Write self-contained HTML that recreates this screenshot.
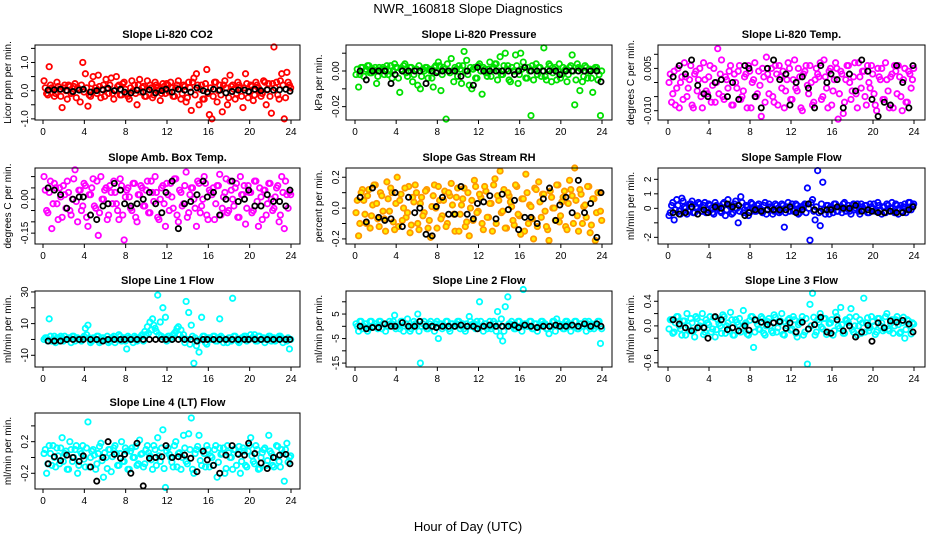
<!DOCTYPE html>
<html><head><meta charset="utf-8"><style>
html,body{margin:0;padding:0;background:#fff;}
svg{display:block;font-family:"Liberation Sans",Arial,sans-serif;}
</style></head><body>
<svg id="chart" width="936" height="540" viewBox="0 0 936 540">
<text x="468" y="13" text-anchor="middle" font-size="13">NWR_160818  Slope Diagnostics</text>
<text x="468" y="531" text-anchor="middle" font-size="13">Hour of Day (UTC)</text>
</svg>
<script>
const xTicks = [0,4,8,12,16,20,24];
const hoursDense = [0.1,0.35,0.6,0.85,1.1,1.35,1.6,1.85,2.1,2.35,2.6,2.85,3.1,3.35,3.6,3.85,4.1,4.35,4.6,4.85,5.1,5.35,5.6,5.85,6.1,6.35,6.6,6.85,7.1,7.35,7.6,7.85,8.1,8.35,8.6,8.85,9.1,9.35,9.6,9.85,10.1,10.35,10.6,10.85,11.1,11.35,11.6,11.85,12.1,12.35,12.6,12.85,13.1,13.35,13.6,13.85,14.1,14.35,14.6,14.85,15.1,15.35,15.6,15.85,16.1,16.35,16.6,16.85,17.1,17.35,17.6,17.85,18.1,18.35,18.6,18.85,19.1,19.35,19.6,19.85,20.1,20.35,20.6,20.85,21.1,21.35,21.6,21.85,22.1,22.35,22.6,22.85,23.1,23.35,23.6,23.85];
const hoursDense2 = [0.22,0.47,0.72,0.97,1.22,1.47,1.72,1.97,2.22,2.47,2.72,2.97,3.22,3.47,3.72,3.97,4.22,4.47,4.72,4.97,5.22,5.47,5.72,5.97,6.22,6.47,6.72,6.97,7.22,7.47,7.72,7.97,8.22,8.47,8.72,8.97,9.22,9.47,9.72,9.97,10.22,10.47,10.72,10.97,11.22,11.47,11.72,11.97,12.22,12.47,12.72,12.97,13.22,13.47,13.72,13.97,14.22,14.47,14.72,14.97,15.22,15.47,15.72,15.97,16.22,16.47,16.72,16.97,17.22,17.47,17.72,17.97,18.22,18.47,18.72,18.97,19.22,19.47,19.72,19.97,20.22,20.47,20.72,20.97,21.22,21.47,21.72,21.97,22.22,22.47,22.72,22.97,23.22,23.47,23.72,23.97];
const hoursSparse = [0.5,1.1,1.7,2.3,2.9,3.5,3.9,4.6,5.2,5.8,6.3,6.9,7.5,7.9,8.5,9.1,9.7,10.3,10.9,11.5,11.9,12.5,13.1,13.7,14.3,14.9,15.5,15.9,16.5,17.1,17.7,18.3,18.9,19.5,19.9,20.5,21.1,21.7,22.3,22.9,23.5,23.9];

const co2C = [0.35,-0.1,0.85,0.1,-0.2,0.3,0.05,-0.6,0.2,-0.3,0.15,-0.05,0.25,0.1,-0.4,1.0,0.6,-0.55,-0.2,0.5,0.1,0.55,-0.25,0.2,0.4,-0.1,0.45,-0.3,0.5,0.2,-0.15,0.3,-0.1,-0.3,0.35,0.2,-0.5,0.4,0.1,-0.2,0.35,0.2,-0.25,0.3,0.1,-0.35,0.25,-0.1,0.2,0.3,-0.2,0.1,0.35,-0.3,0.2,-0.4,0.3,-0.7,0.45,0.6,-0.5,0.2,-0.3,0.75,-0.85,-1.0,0.3,-0.4,0.2,-0.75,0.35,-0.5,0.55,0.2,-0.3,0.3,0.1,-0.6,0.6,-0.25,0.2,-0.35,0.3,0.1,-0.2,0.35,-0.5,0.25,-0.8,1.55,0.3,-0.3,0.6,-1.0,0.65,0.2];
const co2C2 = [0.1,-0.15,0.2,0.05,-0.1,0.15,-0.2,0.1,0.0,0.2,-0.1,0.15,-0.25,0.05,0.2,-0.05,0.1,-0.15,0.25,0.0,-0.1,0.15,0.05,-0.2,0.1,0.2,-0.1,0.0,0.15,-0.15,0.25,0.05,-0.2,0.1,0.0,-0.1,0.2,-0.05,0.15,-0.2,0.05,0.1,-0.15,0.2,0.0,-0.1,0.15,0.25,-0.05,0.1,-0.2,0.2,0.05,-0.1,0.15,-0.25,0.1,0.3,-0.15,0.2,0.05,-0.3,0.25,-0.1,0.1,-0.2,0.3,0.0,-0.15,0.2,0.1,-0.25,0.15,0.05,-0.1,0.2,-0.2,0.1,0.25,-0.05,0.15,-0.15,0.2,0.0,-0.1,0.3,0.05,-0.2,0.25,0.1,-0.15,0.35,0.2,-0.25,0.3,0.1];
const co2B = [0.02,0.03,0.05,0.01,-0.03,0.02,0.05,-0.05,0.0,0.03,0.08,0.0,0.05,-0.05,-0.08,0.02,-0.05,0.03,-0.08,0.0,0.05,-0.05,0.05,0.02,-0.05,0.1,0.0,-0.05,0.05,0.02,-0.08,-0.03,0.02,0.02,-0.03,0.05,0.0,0.03,0.02,0.03,0.05,-0.02];
const prC = [-0.002,-0.009,0.002,-0.003,0.001,0.003,-0.001,0.0,-0.007,0.002,0.001,-0.002,0.003,0.0,-0.004,0.004,0.002,-0.012,0.0,0.004,-0.003,0.002,-0.006,0.001,-0.008,-0.01,0.001,0.002,-0.004,0.0,-0.009,0.003,0.005,-0.011,0.002,-0.027,0.0,0.007,-0.006,0.001,0.003,-0.007,0.011,0.006,-0.008,-0.01,0.002,-0.004,0.004,-0.013,0.001,-0.003,0.005,0.001,0.004,-0.005,0.008,-0.002,0.01,0.003,-0.006,0.0,0.009,-0.007,0.01,0.005,-0.004,0.002,-0.025,-0.005,0.004,0.002,-0.003,0.013,-0.005,0.004,-0.006,0.001,-0.005,0.004,-0.002,0.0,-0.006,0.002,0.009,-0.019,0.004,-0.011,-0.006,0.003,-0.004,0.001,-0.012,0.002,-0.005,-0.025];
const prC2 = [0.001,-0.002,0.002,0.0,0.003,-0.001,0.001,0.002,-0.003,0.0,0.002,0.001,-0.002,0.003,0.0,0.002,-0.004,0.001,0.003,-0.001,0.0,0.002,-0.002,0.001,0.003,-0.003,0.0,0.002,0.001,-0.004,0.002,0.0,0.003,-0.002,0.001,0.004,-0.001,0.0,0.002,-0.003,0.001,0.003,0.0,-0.002,0.002,0.001,-0.004,0.003,0.0,0.002,-0.001,0.001,-0.003,0.002,0.004,0.0,-0.002,0.003,0.001,-0.005,0.002,0.0,0.003,-0.002,0.001,0.002,-0.004,0.0,0.003,0.001,-0.002,0.002,0.0,-0.003,0.001,0.003,-0.001,0.002,0.0,-0.004,0.002,0.001,-0.002,0.003,0.0,-0.005,0.002,0.001,-0.003,0.002,0.0,-0.004,0.001,0.002,-0.002,0.0];
const prB = [0.0,-0.005,0.0,0.0,0.0,-0.007,-0.002,0.0,0.0,0.0,0.0,-0.007,0.0,-0.001,0.0,0.0,0.0,-0.003,0.0,-0.008,0.002,0.0,0.0,0.0,0.0,0.0,-0.002,0.0,0.002,0.0,0.0,0.0,0.0,0.0,-0.002,0.0,0.0,0.0,0.0,0.0,0.0,-0.006];
const tC = [0.0,-0.007,0.004,-0.002,-0.009,0.002,0.007,-0.005,0.001,-0.008,0.003,-0.003,0.005,-0.009,0.001,-0.004,0.006,-0.001,-0.007,0.012,0.003,-0.005,0.002,-0.002,0.006,-0.008,0.0,0.004,-0.006,-0.003,0.003,0.006,-0.009,0.001,-0.005,0.004,-0.012,0.002,0.009,-0.004,0.005,-0.007,0.003,0.006,-0.002,-0.009,0.001,0.005,-0.006,0.008,-0.003,0.002,-0.01,0.004,-0.001,0.006,-0.008,0.001,0.003,0.007,-0.005,0.002,-0.009,0.005,-0.003,0.007,-0.013,0.004,-0.011,0.001,0.006,-0.006,0.002,-0.004,0.007,-0.002,0.004,-0.008,0.0,0.006,-0.004,-0.01,0.002,0.005,-0.006,0.001,-0.009,0.003,0.006,-0.004,0.002,-0.01,0.005,-0.007,0.003,0.001];
const tC2 = [0.003,-0.004,-0.008,0.005,0.0,-0.006,0.002,-0.002,0.006,-0.009,0.004,0.001,-0.005,0.007,-0.003,0.002,-0.007,0.005,0.0,-0.004,0.008,-0.006,0.001,0.004,-0.008,0.003,-0.002,0.006,-0.005,0.002,-0.009,0.004,0.0,0.007,-0.004,-0.001,0.005,-0.007,0.003,0.001,-0.005,0.006,-0.008,0.002,0.004,-0.003,0.007,-0.006,0.001,-0.002,0.005,-0.009,0.003,0.006,-0.004,0.0,-0.007,0.005,0.002,-0.006,0.008,-0.002,0.004,-0.008,0.001,0.005,-0.004,0.003,-0.007,0.006,0.0,-0.003,0.007,-0.009,0.002,0.004,-0.005,0.006,-0.002,0.003,-0.008,0.005,0.001,-0.006,0.007,-0.003,0.002,-0.009,0.004,0.006,-0.005,0.001,-0.007,0.004,-0.002,0.005];
const tB = [0.002,0.006,0.003,0.008,-0.001,-0.004,-0.005,0.0,0.001,-0.005,0.0,-0.006,0.006,0.005,-0.005,-0.009,0.005,0.008,0.001,0.003,-0.008,0.0,0.002,-0.002,-0.009,0.006,0.0,0.003,0.001,-0.009,0.003,-0.003,0.008,0.004,-0.006,-0.012,-0.007,-0.008,0.006,0.0,-0.009,0.006];
const aC = [0.1,-0.05,0.03,-0.13,0.07,-0.02,0.05,-0.08,0.02,0.08,-0.05,0.0,0.13,-0.1,0.04,-0.03,0.06,-0.12,0.02,0.09,-0.04,-0.16,0.1,0.0,0.05,-0.07,0.03,0.08,-0.02,-0.09,0.06,-0.18,0.04,0.01,-0.05,0.07,-0.1,0.02,0.05,-0.03,0.08,-0.06,0.03,0.1,-0.08,0.0,0.06,-0.12,0.02,0.07,-0.04,0.09,-0.1,0.03,-0.02,0.12,-0.06,0.05,0.0,-0.12,0.07,-0.03,0.1,-0.07,0.04,0.02,-0.09,0.06,0.11,-0.04,0.03,-0.06,0.08,0.0,0.05,-0.08,0.1,0.02,-0.11,0.06,0.03,-0.05,0.08,-0.12,0.01,0.04,-0.07,0.07,0.0,-0.04,0.05,-0.1,0.1,-0.13,0.02,0.03];
const aC2 = [0.04,-0.06,0.08,-0.02,0.05,-0.09,0.01,0.06,-0.04,0.03,-0.07,0.09,-0.01,0.04,-0.05,0.07,-0.08,0.02,0.05,-0.03,0.08,-0.06,0.0,0.04,-0.09,0.06,-0.02,0.03,-0.05,0.09,-0.07,0.01,0.05,-0.04,0.07,-0.08,0.02,0.06,-0.03,0.04,-0.06,0.08,-0.01,0.03,-0.09,0.05,-0.02,0.07,-0.05,0.01,0.09,-0.07,0.04,-0.03,0.06,-0.08,0.02,0.05,-0.04,0.08,-0.06,0.0,0.07,-0.09,0.03,0.05,-0.02,0.06,-0.07,0.01,0.09,-0.05,0.04,-0.03,0.07,-0.08,0.02,0.06,-0.04,0.03,-0.06,0.08,-0.01,0.05,-0.09,0.04,-0.02,0.07,-0.05,0.01,0.06,-0.07,0.03,0.08,-0.04,0.02];
const aB = [0.05,0.04,0.02,-0.04,0.0,0.01,0.01,-0.07,-0.09,-0.03,-0.02,0.07,0.04,-0.02,-0.03,-0.02,0.0,0.03,-0.02,-0.06,0.03,0.08,-0.13,-0.02,-0.01,0.02,0.08,0.01,0.03,-0.07,0.0,0.08,-0.01,0.0,0.04,-0.03,-0.03,0.02,-0.01,-0.01,-0.03,0.04];
const rC = [-0.03,-0.18,0.1,0.05,-0.1,0.12,-0.05,0.15,0.03,-0.12,0.08,-0.07,0.17,-0.02,0.1,-0.14,0.2,0.05,-0.08,0.13,-0.03,-0.16,0.07,0.15,-0.1,0.03,-0.05,0.11,-0.13,-0.19,0.08,0.0,0.14,-0.07,0.05,-0.12,0.1,0.16,-0.04,0.07,-0.15,0.02,0.13,-0.09,-0.18,0.05,0.18,-0.03,0.09,-0.1,0.14,-0.06,0.03,-0.15,0.19,0.08,0.24,-0.02,-0.13,0.1,0.04,-0.08,0.15,-0.04,-0.17,0.06,0.22,-0.1,0.01,-0.2,0.12,0.17,-0.06,0.09,-0.12,-0.21,0.07,0.0,0.15,-0.09,0.04,0.11,-0.14,0.18,0.08,0.26,-0.05,0.12,-0.1,0.02,0.14,-0.16,0.06,-0.21,0.1,-0.02];
const rC2 = [0.05,-0.1,0.12,-0.04,0.08,-0.13,0.02,0.15,-0.07,0.1,-0.02,-0.15,0.06,0.13,-0.09,0.03,-0.12,0.09,0.0,-0.06,0.14,-0.11,0.04,0.1,-0.14,0.07,-0.03,0.12,-0.08,0.01,0.15,-0.13,0.05,-0.05,0.11,-0.1,0.08,0.02,-0.15,0.13,-0.04,0.06,-0.12,0.1,0.0,-0.08,0.14,-0.02,0.07,-0.14,0.11,-0.06,0.03,0.15,-0.1,0.05,-0.03,0.12,-0.13,0.08,0.01,-0.11,0.14,-0.05,0.06,-0.15,0.1,0.02,-0.07,0.13,-0.12,0.04,0.09,-0.02,-0.14,0.11,0.0,-0.08,0.15,-0.05,0.07,-0.12,0.03,0.12,-0.1,0.05,-0.15,0.09,0.01,-0.06,0.14,-0.11,0.06,-0.03,0.1,-0.08];
const rB = [0.07,-0.09,0.13,-0.06,-0.08,-0.07,0.1,-0.12,0.07,-0.03,0.0,-0.17,-0.18,0.01,0.07,-0.04,-0.04,0.14,-0.04,-0.07,0.03,0.04,0.08,-0.07,0.09,-0.01,0.05,-0.14,-0.06,-0.06,-0.1,0.06,0.13,-0.08,0.02,0.07,-0.03,0.18,-0.03,0.03,-0.19,0.1];
const sC = [-0.5,0.2,-0.8,0.6,-0.2,0.7,0.1,-0.4,0.3,0.5,-0.3,0.0,0.3,-0.2,0.4,-0.1,0.2,-0.3,0.4,0.0,-0.2,0.3,-0.5,0.6,0.1,-0.3,0.5,-1.0,0.8,-0.3,0.2,-0.5,0.4,0.0,-0.2,0.3,-0.1,0.2,-0.4,0.3,0.0,-0.2,0.2,-0.3,0.3,-1.3,0.1,-0.2,0.3,-0.1,0.2,-0.3,0.1,0.3,1.4,-2.2,0.6,-0.8,2.6,-1.2,1.8,-0.4,0.2,0.1,-0.3,0.3,-0.2,0.1,0.3,-0.2,0.2,-0.4,0.3,0.0,-0.2,0.3,-0.1,0.2,-0.3,0.1,0.3,-0.2,0.2,-0.4,0.1,0.3,-0.2,0.4,-0.3,0.2,0.0,-0.2,0.3,-0.1,0.4,0.2];
const sC2 = [-0.3,0.4,-0.1,0.2,-0.4,0.5,0.0,-0.2,0.3,-0.3,0.1,0.4,-0.2,0.2,-0.3,0.3,0.0,-0.4,0.2,0.1,-0.3,0.4,-0.1,0.2,-0.4,0.3,0.0,-0.2,0.4,-0.1,0.1,-0.3,0.3,-0.2,0.2,0.0,-0.3,0.4,-0.1,0.1,-0.4,0.3,0.0,-0.2,0.2,-0.3,0.4,0.1,-0.2,0.3,-0.4,0.1,0.2,-0.3,0.0,0.4,-0.2,0.1,-0.3,0.3,-0.1,0.2,-0.4,0.0,0.3,-0.2,0.1,-0.3,0.4,0.0,-0.2,0.2,-0.1,0.3,-0.4,0.1,0.2,-0.3,0.3,0.0,-0.2,0.4,-0.1,0.1,-0.3,0.2,0.0,-0.2,0.3,-0.4,0.2,0.1,-0.3,0.4,-0.1,0.3];
const sB = [-0.3,-0.4,-0.3,0.1,-0.4,-0.1,-0.3,0.1,0.0,0.3,0.1,0.2,-0.5,-0.3,-0.1,-0.2,-0.1,-0.1,-0.1,-0.1,0.1,-0.3,-0.1,0.3,-0.1,-0.2,-0.1,-0.1,0.1,0.0,0.0,0.2,-0.2,-0.1,-0.2,-0.3,-0.3,-0.2,-0.3,-0.3,-0.1,0.1];
const l1C = [0,1,13,-1,2,1,-1,1,2,0,1,2,-1,1,0,1,7,9,-2,1,0,2,-1,1,0,-2,1,2,0,3,-1,1,-6,1,0,2,-1,1,3,5,8,11,13,7,28,11,20,14,2,1,3,5,8,6,3,24,17,9,-15,-4,-8,14,2,-3,1,0,2,-1,13,1,0,-2,1,26,2,-1,0,1,2,0,3,1,-1,2,0,1,0,2,-1,1,0,2,1,0,-1,-6];
const l1C2 = [1,-1,2,0,-2,1,2,-1,0,1,-2,2,1,0,-1,2,3,1,-1,0,2,-2,1,0,2,-1,1,-2,0,2,1,-1,2,0,-2,1,0,2,-1,3,4,6,9,5,3,2,1,-1,2,0,4,7,3,1,-2,0,-3,2,1,-1,0,2,-2,1,0,2,-1,1,2,-2,0,1,-1,2,0,-2,1,2,-1,0,1,3,-1,2,0,-2,1,2,0,-1,1,2,-2,0,1,0];
const l1B = [-1,-1,-1,0,0,0,0,0,0,-1,0,0,0,0,0,0,0,0,0,0,0,0,0,0,0,-1,0,0,0,0,0,0,0,0,0,0,0,0,0,0,0,0];
const l2C = [1,-2,2,0,1,-1,2,0,1,2,-1,1,0,2,1,4.5,0,-1,2,1,3,-2,0,1,5,-15,1,0,-1,2,0,1,-5,1,0,2,-1,1,0,1,2,0,-1,1,4,0,1,2,10,0,1,-1,2,0,1,6,-4,-6,8,12,1,0,-1,2,0,15,1,0,2,-1,1,0,2,1,-1,-3,0,2,3,1,0,-1,2,1,0,2,-1,1,0,2,1,-1,0,1,2,-7];
const l2C2 = [0,2,-1,1,-2,2,0,1,-1,2,1,-2,0,1,2,-1,0,2,-2,1,0,-1,2,1,-2,0,2,-1,1,0,-2,2,1,-1,0,2,-2,1,0,2,-1,1,-2,0,2,1,-1,0,2,-2,1,0,-1,2,-2,1,3,-2,0,1,2,-1,0,2,-2,1,0,2,-1,1,-2,0,2,1,-1,0,2,-2,1,0,-1,2,1,-2,0,2,-1,1,0,-2,2,1,-1,0,2,-1];
const l2B = [0,-1,-0.5,-0.5,1,0,0,1.5,0,0,2,0,0,-0.5,0,0,0,0.5,0,0,-1,0,0.5,0,0,0,0.5,-0.5,0.5,0,-0.5,0,0,0.5,0,0,0.5,0,1,0,1,0];
const l3C = [-0.05,0.1,-0.1,0.15,0.0,-0.15,0.08,0.2,-0.08,0.05,-0.18,0.12,0.0,0.2,-0.1,0.05,0.15,-0.05,-0.18,0.1,0.0,0.18,-0.12,0.05,0.22,-0.15,0.1,0.02,-0.1,0.25,0.05,-0.15,0.15,-0.35,0.08,-0.05,0.15,-0.12,0.0,0.12,-0.08,0.18,-0.1,0.05,0.2,-0.15,0.0,0.12,-0.05,0.1,-0.18,0.05,0.15,-0.1,-0.62,0.35,0.53,-0.15,0.1,0.2,-0.05,0.12,-0.1,0.05,-0.15,0.22,0.0,0.3,-0.12,0.1,0.05,0.28,-0.1,0.15,0.0,-0.12,0.45,0.05,-0.08,0.15,0.0,-0.1,0.12,0.05,-0.05,0.2,-0.08,0.1,0.0,0.15,-0.12,0.05,-0.2,0.1,0.0,0.05];
const l3C2 = [0.1,-0.12,0.05,0.15,-0.05,0.08,-0.15,0.0,0.12,-0.08,0.15,-0.02,0.06,-0.14,0.1,0.02,-0.1,0.14,-0.06,0.04,-0.12,0.15,0.0,-0.08,0.1,-0.15,0.06,0.12,-0.04,0.02,-0.13,0.09,0.15,-0.1,0.03,-0.06,0.12,-0.15,0.07,0.0,-0.11,0.14,-0.03,0.08,-0.14,0.05,0.1,-0.07,0.15,-0.12,0.02,0.08,-0.15,0.12,-0.05,0.0,0.14,-0.1,0.06,-0.02,0.12,-0.14,0.04,0.1,-0.08,0.15,-0.04,0.02,-0.12,0.09,0.14,-0.06,0.0,-0.15,0.1,0.05,-0.1,0.13,-0.03,0.07,-0.14,0.12,0.0,-0.08,0.15,-0.05,0.04,-0.12,0.1,0.02,-0.1,0.14,-0.06,0.08,-0.13,0.03];
const l3B = [0.1,0.03,-0.03,-0.08,-0.03,-0.03,-0.2,0.15,0.1,-0.06,-0.03,-0.08,0.0,-0.07,0.1,0.06,0.02,0.05,0.07,-0.04,0.05,-0.1,0.06,-0.05,0.02,0.14,-0.1,-0.12,0.1,-0.08,0.0,-0.18,-0.1,0.01,-0.25,0.05,-0.03,0.08,0.06,0.09,0.03,-0.1];
const l4C = [0.05,-0.2,0.15,-0.1,0.0,0.12,-0.08,0.25,0.05,-0.15,0.2,-0.05,0.1,-0.2,0.08,0.15,-0.12,0.45,0.0,0.1,-0.15,0.05,0.18,-0.25,0.0,0.1,-0.18,0.12,0.05,-0.1,0.2,-0.05,0.08,-0.15,0.12,0.0,-0.1,0.22,0.05,-0.08,0.15,0.02,-0.15,0.1,0.25,-0.05,0.35,-0.38,0.12,0.0,-0.12,0.2,0.05,-0.15,0.28,-0.05,0.3,0.5,-0.2,0.1,0.28,-0.1,0.05,0.15,-0.12,0.0,0.1,-0.25,0.12,0.05,-0.2,0.15,0.0,-0.15,0.1,0.05,-0.2,0.12,-0.1,0.08,0.25,-0.05,0.15,-0.15,0.0,0.1,-0.1,0.28,0.05,-0.12,0.15,-0.05,0.1,-0.3,0.18,0.0];
const l4C2 = [0.1,-0.08,0.05,0.15,-0.12,0.02,0.12,-0.05,0.08,-0.15,0.1,0.0,0.15,-0.1,0.05,-0.02,0.12,-0.12,0.08,0.03,-0.08,0.14,-0.04,0.06,-0.14,0.1,0.01,0.15,-0.1,0.05,-0.05,0.12,-0.15,0.08,0.0,0.14,-0.08,0.04,-0.12,0.1,0.06,-0.03,0.15,-0.1,0.02,0.12,-0.14,0.08,0.04,-0.06,0.15,-0.12,0.06,0.0,0.12,-0.08,0.1,-0.15,0.05,0.14,-0.04,0.08,-0.12,0.1,0.02,-0.1,0.15,-0.06,0.04,0.12,-0.14,0.06,0.0,0.1,-0.1,0.14,-0.05,0.08,-0.12,0.15,0.02,-0.08,0.1,-0.14,0.06,0.12,-0.04,0.08,-0.1,0.0,0.14,-0.12,0.05,0.1,-0.06,0.02];
const l4B = [-0.08,0.01,-0.04,0.03,0.0,-0.05,0.02,-0.12,-0.3,0.0,0.2,0.04,-0.01,0.04,-0.2,0.18,-0.36,-0.01,0.0,0.01,0.15,0.0,0.01,0.03,-0.01,-0.18,0.08,-0.03,-0.1,-0.2,0.03,0.15,0.04,0.03,0.18,0.05,-0.07,-0.14,0.0,0.03,0.04,-0.08];

const colBox = [[35,300,43,291],[346,612,355,602],[658,925,668,914]];
const rowBox = [[45,120],[168,244],[291,367],[413,489]];
const panels = [
 {name:'co2',title:'Slope Li-820 CO2',ylab:'Licor ppm per min.',r:0,c:0,ymin:-1.04,ymax:1.62,ticks:[-1,-0.5,0,0.5,1,1.5],labels:{'-1':'-1.0','0':'0.0','1':'1.0'},color:'#ff0000',cv:co2C,cv2:co2C2,bv:co2B},
 {name:'pressure',title:'Slope Li-820 Pressure',ylab:'kPa per min.',r:0,c:1,ymin:-0.0275,ymax:0.0146,ticks:[-0.02,-0.01,0,0.01],labels:{'-0.02':'-0.02','0':'0.00'},color:'#00e000',cv:prC,cv2:prC2,bv:prB},
 {name:'li820-temp',title:'Slope Li-820 Temp.',ylab:'degrees C per min.',r:0,c:2,ymin:-0.0133,ymax:0.0133,ticks:[-0.01,-0.005,0,0.005,0.01],labels:{'-0.01':'-0.010','0.005':'0.005'},color:'#ff00ff',cv:tC,cv2:tC2,bv:tB},
 {name:'amb-box-temp',title:'Slope Amb. Box Temp.',ylab:'degrees C per min.',r:1,c:0,ymin:-0.198,ymax:0.138,ticks:[-0.15,-0.1,-0.05,0,0.05,0.1],labels:{'-0.15':'-0.15','0':'0.00'},color:'#ff00ff',cv:aC,cv2:aC2,bv:aB},
 {name:'gas-stream-rh',title:'Slope Gas Stream RH',ylab:'percent per min.',r:1,c:1,ymin:-0.233,ymax:0.26,ticks:[-0.2,-0.1,0,0.1,0.2],labels:{'-0.2':'-0.2','0':'0.0','0.2':'0.2'},color:'#ff9900',cv:rC,cv2:rC2,bv:rB},
 {name:'sample-flow',title:'Slope Sample Flow',ylab:'ml/min per min.',r:1,c:2,ymin:-2.46,ymax:2.78,ticks:[-2,-1,0,1,2],labels:{'-2':'-2','0':'0','1':'1','2':'2'},color:'#0000ff',cv:sC,cv2:sC2,bv:sB},
 {name:'line1-flow',title:'Slope Line 1 Flow',ylab:'ml/min per min.',r:2,c:0,ymin:-17.4,ymax:30.6,ticks:[-10,0,10,20,30],labels:{'-10':'-10','10':'10','30':'30'},color:'#00ffff',cv:l1C,cv2:l1C2,bv:l1B},
 {name:'line2-flow',title:'Slope Line 2 Flow',ylab:'ml/min per min.',r:2,c:1,ymin:-16.6,ymax:14.4,ticks:[-15,-10,-5,0,5,10],labels:{'-15':'-15','-5':'-5','5':'5'},color:'#00ffff',cv:l2C,cv2:l2C2,bv:l2B},
 {name:'line3-flow',title:'Slope Line 3 Flow',ylab:'ml/min per min.',r:2,c:2,ymin:-0.668,ymax:0.567,ticks:[-0.6,-0.4,-0.2,0,0.2,0.4],labels:{'-0.6':'-0.6','0':'0.0','0.4':'0.4'},color:'#00ffff',cv:l3C,cv2:l3C2,bv:l3B},
 {name:'line4-flow',title:'Slope Line 4 (LT) Flow',ylab:'ml/min per min.',r:3,c:0,ymin:-0.399,ymax:0.563,ticks:[-0.2,0,0.2,0.4],labels:{'-0.2':'-0.2','0.2':'0.2'},color:'#00ffff',cv:l4C,cv2:l4C2,bv:l4B}
];
const NS='http://www.w3.org/2000/svg';
const svg=document.getElementById('chart');
function mk(tag,attrs,parent){const e=document.createElementNS(NS,tag);for(const k in attrs)e.setAttribute(k,attrs[k]);(parent||svg).appendChild(e);return e;}
panels.forEach(p=>{
  const [L,R,x0,x24]=colBox[p.c];const [T,B]=rowBox[p.r];
  const g=mk('g',{});
  
  
  const xs=h=>x0+(x24-x0)*h/24;
  const ys=v=>B-(v-p.ymin)/(p.ymax-p.ymin)*(B-T);
  const t=mk('text',{x:(L+R)/2,y:T-7,'text-anchor':'middle','font-size':'11','font-weight':'bold'},g);t.textContent=p.title;
  
  
  const yl=mk('text',{x:0,y:0,'text-anchor':'middle','font-size':'10',transform:`translate(${L-24},${(T+B)/2}) rotate(-90)`},g);yl.textContent=p.ylab;
  
  
  const pts=mk('g',{fill:'none','stroke-width':'1.8'},g);
  
  
  const fillC=p.name==='gas-stream-rh'?'#ffee00':'none';
  p.cv2.forEach((v,i)=>{if(hoursDense2[i]===undefined)return;const c=mk('circle',{cx:xs(hoursDense2[i]),cy:ys(v),r:2.7,stroke:p.color,fill:fillC},pts);
    
    });
  p.cv.forEach((v,i)=>{if(hoursDense[i]===undefined)return;const c=mk('circle',{cx:xs(hoursDense[i]),cy:ys(v),r:2.7,stroke:p.color,fill:fillC},pts);
    
    });
  const bpts=mk('g',{fill:'none','stroke-width':'1.8',stroke:'#000'},g);
  
  
  p.bv.forEach((v,i)=>{if(hoursSparse[i]===undefined)return;const c=mk('circle',{cx:xs(hoursSparse[i]),cy:ys(v),r:2.6},bpts);
    
    });
  const box=mk('rect',{x:L,y:T,width:R-L,height:B-T,fill:'none',stroke:'#000','stroke-width':'1'},g);
  
  
  xTicks.forEach(h=>{const x=xs(h);mk('line',{x1:x,x2:x,y1:B,y2:B+4,stroke:'#000'},g);
    const tx=mk('text',{x:x,y:B+15,'text-anchor':'middle','font-size':'10'},g);tx.textContent=h;
    
    });
  p.ticks.forEach(v=>{const y=ys(v);mk('line',{x1:L-4,x2:L,y1:y,y2:y,stroke:'#000'},g);
    const lab=p.labels[String(v)];if(lab){const ty=mk('text',{x:0,y:0,'text-anchor':'middle','font-size':'10',transform:`translate(${L-7},${y}) rotate(-90)`},g);ty.textContent=lab;
    
    }});
});
</script>
</body></html>
